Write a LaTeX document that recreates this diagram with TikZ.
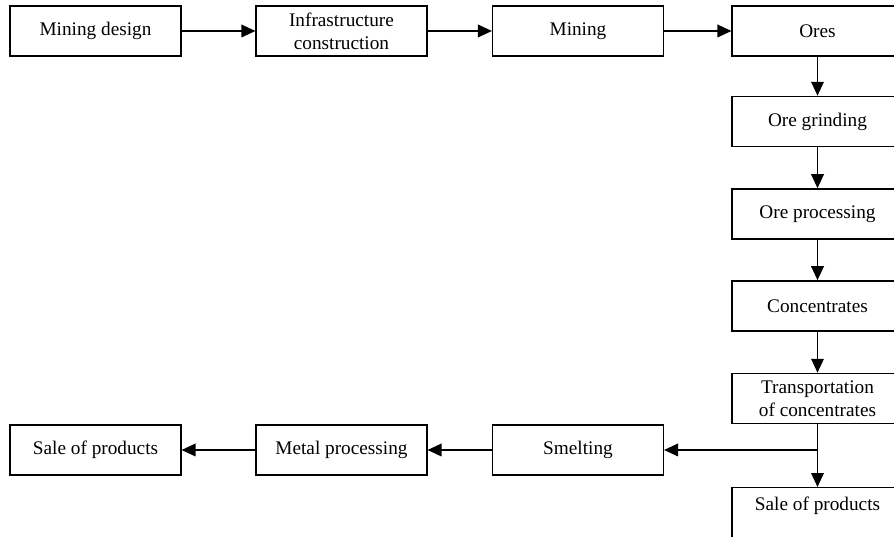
\documentclass[tikz,border=0pt]{standalone}
\usepackage{fontspec}
\setmainfont{Liberation Serif}
\usetikzlibrary{arrows.meta}
\tikzstyle{stage} = [draw, rectangle, line width=1pt, minimum width=4.52cm, minimum height=1.33cm, inner sep=2pt, align=center, font=\fontsize{14.5}{17.4}\selectfont]
\tikzstyle{flow} = [line width=1.1pt, -{Triangle[length=10.5pt,width=9.5pt]}]

\begin{document}
\begin{tikzpicture}
			\path[use as bounding box, clip] (0,0) rectangle (23.654,14.208);
			\node[stage] (design) at (2.527,13.388) {Mining design};
			\node[stage] (infra) at (9.035,13.388) {Infrastructure\\construction};
			\node[stage] (mining) at (15.293,13.388) {Mining};
			\node[stage] (ores) at (21.63,13.388) {Ores};
			\node[stage] (grinding) at (21.63,10.993) {Ore grinding};
			\node[stage] (processing) at (21.63,8.546) {Ore processing};
			\node[stage] (conc) at (21.63,6.112) {Concentrates};
			\node[stage] (transport) at (21.63,3.664) {Transportation\\of concentrates};
			\node[stage, anchor=north, inner sep=0pt, text height=16.9pt, text depth=20.6pt] (salecol) at (21.63,1.323) {Sale of products};
			\node[stage] (smelting) at (15.293,2.302) {Smelting};
			\node[stage] (metal) at (9.035,2.302) {Metal processing};
			\node[stage] (salerow) at (2.527,2.302) {Sale of products};
			\coordinate (fork) at (transport.south |- smelting.east);
			\draw[flow] (design) -- (infra);
			\draw[flow] (infra) -- (mining);
			\draw[flow] (mining) -- (ores);
			\draw[flow] (ores) -- (grinding);
			\draw[flow] (grinding) -- (processing);
			\draw[flow] (processing) -- (conc);
			\draw[flow] (conc) -- (transport);
			\draw[flow] (transport) -- (salecol);
			\draw[flow] (fork) -- (smelting);
			\draw[flow] (smelting) -- (metal);
			\draw[flow] (metal) -- (salerow);
		\end{tikzpicture}
\end{document}
